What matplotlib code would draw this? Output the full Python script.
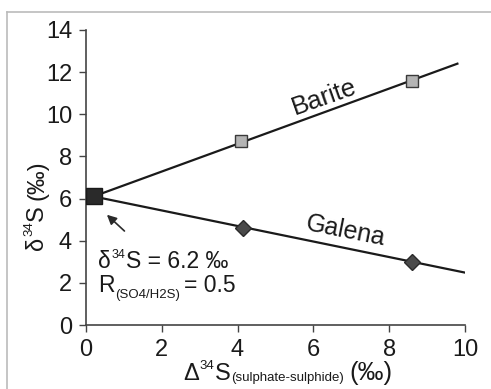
import matplotlib.pyplot as plt
from matplotlib.lines import Line2D

plt.rcParams['font.family'] = ['Liberation Sans', 'DejaVu Sans']
plt.rcParams['axes.unicode_minus'] = False

W, H = 491, 389

# fitted lines (start at the common point, end at the right)
barite_line_x = [0.2, 9.8]
barite_line_y = [6.1, 12.4]
galena_line_x = [0.2, 10.1]
galena_line_y = [6.1, 2.45]

# measured points
barite_x = [4.1, 8.6]
barite_y = [8.75, 11.6]
galena_x = [4.15, 8.6]
galena_y = [4.6, 3.0]
start_x = [0.2]
start_y = [6.1]

xticks = [0, 2, 4, 6, 8, 10]
yticks = [0, 2, 4, 6, 8, 10, 12, 14]

TXT = '#1a1a1a'


def rich_text(fig, x0, y0, pieces, vertical=False):
    """Draw text pieces (text, size, rise, gap) one after another.
    x0, y0 are pixels from the top-left corner, at the baseline start."""
    r = fig.canvas.get_renderer()
    pos = 0.0
    for s, size, rise, gap in pieces:
        if vertical:
            t = fig.text((x0 - rise) / W, 1 - (y0 - pos) / H, s, fontsize=size, color=TXT,
                         rotation=90, rotation_mode='anchor', ha='left', va='baseline')
            pos += t.get_window_extent(r).height + gap
        else:
            t = fig.text((x0 + pos) / W, 1 - (y0 - rise) / H, s, fontsize=size, color=TXT,
                         ha='left', va='baseline')
            pos += t.get_window_extent(r).width + gap


fig = plt.figure(figsize=(W / 100, H / 100), dpi=100)
ax = fig.add_axes([0.175, 0.1645, 0.772, 0.7585])

ax.plot(barite_line_x, barite_line_y, color='#1a1a1a', lw=1.6, zorder=2)
ax.plot(galena_line_x, galena_line_y, color='#1a1a1a', lw=1.6, zorder=2)
ax.plot(barite_x, barite_y, 's', ms=9, mfc='#b4b4b4', mec='#3a3a3a', mew=1.0, zorder=3)
ax.plot(galena_x, galena_y, 'D', ms=8, mfc='#4a4a4a', mec='#2a2a2a', mew=1.0, zorder=3)
ax.plot(start_x, start_y, 's', ms=11, mfc='#2a2a2a', mec='#1a1a1a', zorder=4)

ax.text(6.3, 10.8, 'Barite', fontsize=18.5, rotation=19.4, ha='center', va='center',
        color=TXT, rotation_mode='anchor')
ax.text(6.85, 4.45, 'Galena', fontsize=18, rotation=-11.2, ha='center', va='center',
        color=TXT, rotation_mode='anchor')

ax.annotate('', xy=(0.5, 5.32), xytext=(1.07, 4.37),
            arrowprops=dict(arrowstyle='-|>', color='#2a2a2a', lw=1.2, mutation_scale=14))

ax.set_xlim(0, 10)
ax.set_ylim(0, 14)
ax.set_xticks(xticks)
ax.set_yticks(yticks)
ax.tick_params(labelsize=17, length=5, width=1, colors='#444444', labelcolor=TXT, pad=5)
for s in ['top', 'right']:
    ax.spines[s].set_visible(False)
for s in ['left', 'bottom']:
    ax.spines[s].set_color('#444444')
    ax.spines[s].set_linewidth(1.2)

# note next to the arrow
rich_text(fig, 98, 268, [('δ', 16.5, 0, 0.5), ('34', 9, 10, 0.5), ('S = 6.2 ‰', 16.5, 0, 0)])
rich_text(fig, 98, 292, [('R', 16.5, 0, 0.5), ('(SO4/H2S)', 9.5, -6, 4), ('= 0.5', 16.5, 0, 0)])

# axis labels
rich_text(fig, 183, 380, [('Δ', 17, 0, 0.5), ('34', 9.5, 11, 0.5), ('S', 17, 0, 0.5),
                          ('(sulphate-sulphide)', 9.5, -1, 6), ('(‰)', 18.5, 0, 0)])
rich_text(fig, 43, 250, [('δ', 17, 0, 0.5), ('34', 9.5, 11, 0.5), ('S', 17, 0, 5),
                         ('(‰)', 17, 0, 0)], vertical=True)

# light frame around the panel (top and left edges)
fig.add_artist(Line2D([7 / W, 1], [1 - 12 / H, 1 - 12 / H], color='#bbbbbb', lw=1.2))
fig.add_artist(Line2D([7 / W, 7 / W], [0, 1 - 12 / H], color='#bbbbbb', lw=1.2))

plt.savefig('out.png', dpi=100)
